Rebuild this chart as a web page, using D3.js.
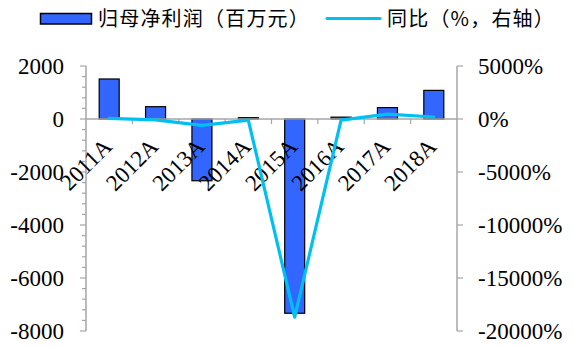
<!DOCTYPE html>
<html><head><meta charset="utf-8">
<script src="https://cdn.jsdelivr.net/npm/d3@7"></script>
<style>
html,body{margin:0;padding:0;background:#fff;}
svg{display:block;}
</style></head>
<body>
<svg id="chart" width="574" height="347"></svg>
<script>
const categories = ['2011A','2012A','2013A','2014A','2015A','2016A','2017A','2018A'];
const profit = [1510, 465, -2330, 50, -7330, 70, 430, 1080];
const yoy = [60, -80, -600, -100, -18700, -100, 460, 190];
const leftTicks = [2000, 0, -2000, -4000, -6000, -8000];
const rightTicks = [5000, 0, -5000, -10000, -15000, -20000];
const legendLabels = ['归母净利润（百万元）', '同比（%，右轴）'];

const svg = d3.select('#chart');
const X0 = 86, X1 = 457, YT = 66, YB = 331;
const serif = '"Liberation Serif","Times New Roman",serif';
const cjk = '"Noto Sans CJK SC","Noto Sans",sans-serif';
const axisColor = '#a6a6a6';

const x = d3.scaleBand().domain(categories).range([X0, X1]).paddingInner(0).paddingOuter(0);
const yL = d3.scaleLinear().domain([-8000, 2000]).range([YB, YT]);
const yR = d3.scaleLinear().domain([-20000, 5000]).range([YB, YT]);

// bars
const bw = 20;
svg.append('g').selectAll('rect').data(profit).join('rect')
  .attr('x', (d,i) => x(categories[i]) + x.bandwidth()/2 - bw/2)
  .attr('y', d => Math.min(yL(d), yL(0)))
  .attr('width', bw)
  .attr('height', d => Math.abs(yL(d) - yL(0)))
  .attr('fill', '#3366ff').attr('stroke', '#000').attr('stroke-width', 1.2);

// left axis
const gL = svg.append('g');
gL.append('line').attr('x1', X0).attr('x2', X0).attr('y1', YT).attr('y2', YB).attr('stroke', axisColor).attr('stroke-width', 1.5);
const minor = d3.range(-8000, 2001, 400);
gL.selectAll('line.mn').data(minor).join('line').attr('class','mn')
  .attr('x1', d => leftTicks.includes(d) ? X0 - 6 : X0 - 4).attr('x2', X0)
  .attr('y1', d => yL(d)).attr('y2', d => yL(d))
  .attr('stroke', axisColor).attr('stroke-width', 1.2);
gL.selectAll('text').data(leftTicks).join('text')
  .attr('x', 64).attr('y', d => yL(d)).attr('dy', '0.35em')
  .attr('text-anchor', 'end').attr('font-family', serif).attr('font-size', 23)
  .text(d => d);

// right axis
const gR = svg.append('g');
gR.append('line').attr('x1', X1).attr('x2', X1).attr('y1', YT).attr('y2', YB).attr('stroke', axisColor).attr('stroke-width', 1.5);
gR.selectAll('line.t').data(rightTicks).join('line').attr('class','t')
  .attr('x1', X1).attr('x2', X1 + 6)
  .attr('y1', d => yR(d)).attr('y2', d => yR(d))
  .attr('stroke', axisColor).attr('stroke-width', 1.2);
gR.selectAll('text').data(rightTicks).join('text')
  .attr('x', 478).attr('y', d => yR(d)).attr('dy', '0.35em')
  .attr('text-anchor', 'start').attr('font-family', serif).attr('font-size', 23)
  .text(d => d + '%');

// category axis
const gX = svg.append('g');
gX.append('line').attr('x1', X0).attr('x2', X1).attr('y1', yL(0)).attr('y2', yL(0)).attr('stroke', axisColor).attr('stroke-width', 1.5);
gX.selectAll('line.t').data(categories.slice(1)).join('line').attr('class','t')
  .attr('x1', d => x(d)).attr('x2', d => x(d))
  .attr('y1', yL(0)).attr('y2', yL(0) + 5)
  .attr('stroke', axisColor).attr('stroke-width', 1.2);
gX.selectAll('text').data(categories).join('text')
  .attr('transform', d => `translate(${x(d) + x.bandwidth()/2 + 4},${yL(0) + 29}) rotate(-45)`)
  .attr('text-anchor', 'end').attr('font-family', serif).attr('font-size', 23)
  .text(d => d);

// line
const line = d3.line().x((d,i) => x(categories[i]) + x.bandwidth()/2).y(d => yR(d));
svg.append('path').datum(yoy).attr('d', line)
  .attr('fill', 'none').attr('stroke', '#00c0f2').attr('stroke-width', 3.2)
  .attr('stroke-linejoin', 'round').attr('stroke-linecap', 'round');

// legend
const lg = svg.append('g');
lg.append('rect').attr('x', 40.5).attr('y', 13.5).attr('width', 51).attr('height', 10.5)
  .attr('fill', '#3366ff').attr('stroke', '#000').attr('stroke-width', 1.5);
lg.append('text').attr('x', 98).attr('y', 19).attr('dy', '0.36em')
  .attr('font-family', cjk).attr('font-size', 20).attr('letter-spacing', 1.2).text(legendLabels[0]);
lg.append('line').attr('x1', 327).attr('x2', 380).attr('y1', 18.5).attr('y2', 18.5)
  .attr('stroke', '#00c0f2').attr('stroke-width', 3.2).attr('stroke-linecap', 'round');
lg.append('text').attr('x', 387).attr('y', 19).attr('dy', '0.36em')
  .attr('font-family', cjk).attr('font-size', 20).attr('letter-spacing', 1.2).text(legendLabels[1]);
</script>
</body></html>
